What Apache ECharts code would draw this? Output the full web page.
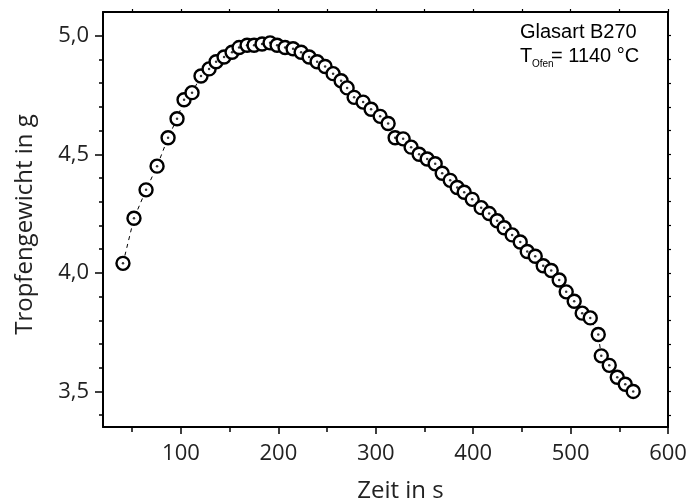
<!DOCTYPE html>
<html>
<head>
<meta charset="utf-8">
<script src="https://cdn.jsdelivr.net/npm/echarts@6/dist/echarts.min.js"></script>
<style>
  html, body { margin: 0; padding: 0; background: #fff; }
  #main { width: 688px; height: 502px; }
</style>
</head>
<body>
<div id="main"></div>
<script>
// Messwerte: Zeit in s, Tropfengewicht in g
var timeS = [40.5, 51.8, 64.2, 75.5, 86.8, 96.0, 103.2, 111.4, 120.6, 128.9,
  136.1, 144.3, 152.5, 159.7, 167.9, 175.1, 183.3, 191.5, 198.7, 206.9,
  215.1, 223.4, 231.6, 239.8, 248.0, 256.2, 264.4, 270.6, 277.8, 287.0,
  295.2, 304.5, 312.7, 319.9, 328.1, 336.3, 344.5, 352.8, 361.0, 368.2,
  376.4, 383.6, 390.8, 399.0, 408.2, 416.4, 424.6, 431.8, 440.0, 448.3,
  455.5, 463.7, 471.9, 480.1, 488.3, 495.5, 503.7, 511.9, 520.2, 528.4,
  531.5, 539.7, 547.9, 556.1, 564.3];
var weightG = [4.04, 4.23, 4.35, 4.45, 4.57, 4.65, 4.73, 4.76, 4.83, 4.86,
  4.89, 4.91, 4.93, 4.95, 4.96, 4.96, 4.965, 4.97, 4.96, 4.95,
  4.945, 4.93, 4.91, 4.89, 4.87, 4.84, 4.81, 4.78, 4.74, 4.72,
  4.69, 4.66, 4.63, 4.57, 4.565, 4.53, 4.50, 4.48, 4.46, 4.42,
  4.39, 4.36, 4.34, 4.31, 4.275, 4.25, 4.22, 4.19, 4.16, 4.13,
  4.09, 4.07, 4.03, 4.01, 3.97, 3.92, 3.88, 3.83, 3.81, 3.74,
  3.65, 3.61, 3.56, 3.53, 3.50];

var xMajorTicks = [100, 200, 300, 400, 500, 600];
var xMinorTicks = [50, 150, 250, 350, 450, 550];
var yMajorTicks = [3.5, 4.0, 4.5, 5.0];
var yMinorTicks = [3.4, 3.6, 3.7, 3.8, 3.9, 4.1, 4.2, 4.3, 4.4, 4.6, 4.7, 4.8, 4.9];

var points = timeS.map(function (t, i) { return [t, weightG[i]]; });

var X_MIN = 20, X_MAX = 600, Y_MIN = 3.35, Y_MAX = 5.1;
var labelFont = '"Open Sans", "Noto Sans", sans-serif';
var noteFont = '"Liberation Sans", Arial, sans-serif';
var axisLineStyle = { color: '#000', width: 2 };

function xAxisBase(extra) {
  return Object.assign({
    type: 'value', min: X_MIN, max: X_MAX, gridIndex: 0,
    splitLine: { show: false },
    axisLine: { show: false },
    axisLabel: { show: false },
    axisTick: { show: false }
  }, extra);
}
function yAxisBase(extra) {
  return Object.assign({
    type: 'value', min: Y_MIN, max: Y_MAX, gridIndex: 0,
    splitLine: { show: false },
    axisLine: { show: false },
    axisLabel: { show: false },
    axisTick: { show: false }
  }, extra);
}

var chart = echarts.init(document.getElementById('main'));
chart.setOption({
  backgroundColor: '#fff',
  animation: false,
  grid: { left: 103, right: 20, top: 12, bottom: 75, outerBoundsMode: 'none', containLabel: false },
  xAxis: [
    xAxisBase({
      position: 'bottom',
      name: 'Zeit in s',
      nameLocation: 'middle',
      nameGap: 52,
      nameTextStyle: { fontFamily: labelFont, fontSize: 24, color: '#222', padding: [0, 0, 0, 30] },
      axisLine: { show: true, onZero: false, lineStyle: axisLineStyle },
      axisTick: { show: true, inside: false, length: 7, customValues: xMajorTicks, lineStyle: { color: '#000', width: 1.5 } },
      axisLabel: { show: true, margin: 16, customValues: xMajorTicks, fontFamily: labelFont, fontSize: 22, color: '#222' }
    }),
    xAxisBase({
      position: 'bottom',
      axisTick: { show: true, inside: false, length: 5, customValues: xMinorTicks, lineStyle: { color: '#000', width: 1.5 } }
    }),
    xAxisBase({
      position: 'top',
      axisLine: { show: true, onZero: false, lineStyle: axisLineStyle },
      axisTick: { show: true, inside: false, length: 3, customValues: xMajorTicks.concat(xMinorTicks), lineStyle: { color: '#000', width: 1.2 } }
    })
  ],
  yAxis: [
    yAxisBase({
      position: 'left',
      name: 'Tropfengewicht in g',
      nameLocation: 'middle',
      nameGap: 66,
      nameTextStyle: { fontFamily: labelFont, fontSize: 24, color: '#222', padding: [0, 10, 0, 0] },
      axisLine: { show: true, onZero: false, lineStyle: axisLineStyle },
      axisTick: { show: true, inside: false, length: 8, customValues: yMajorTicks, lineStyle: { color: '#000', width: 1.5 } },
      axisLabel: {
        show: true, margin: 14, customValues: yMajorTicks, fontFamily: labelFont, fontSize: 22, color: '#222',
        formatter: function (v) { return v.toFixed(1).replace('.', ','); }
      }
    }),
    yAxisBase({
      position: 'left',
      axisTick: { show: true, inside: false, length: 4, customValues: yMinorTicks, lineStyle: { color: '#000', width: 1.5 } }
    }),
    yAxisBase({
      position: 'right',
      axisLine: { show: true, onZero: false, lineStyle: axisLineStyle },
      axisTick: { show: true, inside: false, length: 3, customValues: yMajorTicks.concat(yMinorTicks), lineStyle: { color: '#000', width: 1.2 } }
    })
  ],
  graphic: [
    { type: 'text', left: 520, top: 22, style: { text: 'Glasart B270', fontFamily: noteFont, fontSize: 20, fill: '#000' } },
    { type: 'text', left: 520, top: 46, style: { text: 'T', fontFamily: noteFont, fontSize: 20, fill: '#000' } },
    { type: 'text', left: 532, top: 59, style: { text: 'Ofen', fontFamily: noteFont, fontSize: 10, fill: '#000' } },
    { type: 'text', left: 551, top: 46, style: { text: '= 1140 °C', fontFamily: noteFont, fontSize: 20, fill: '#000' } }
  ],
  series: [
    {
      type: 'line',
      data: points,
      xAxisIndex: 0, yAxisIndex: 0,
      symbol: 'circle',
      symbolSize: 13,
      lineStyle: { color: '#000', width: 1, type: [4, 4] },
      itemStyle: { color: '#fff', borderColor: '#000', borderWidth: 2.4 },
      z: 2
    },
    {
      type: 'scatter',
      data: points,
      xAxisIndex: 0, yAxisIndex: 0,
      symbol: 'circle',
      symbolSize: 2.5,
      itemStyle: { color: '#000' },
      z: 3
    }
  ]
});
</script>
</body>
</html>
